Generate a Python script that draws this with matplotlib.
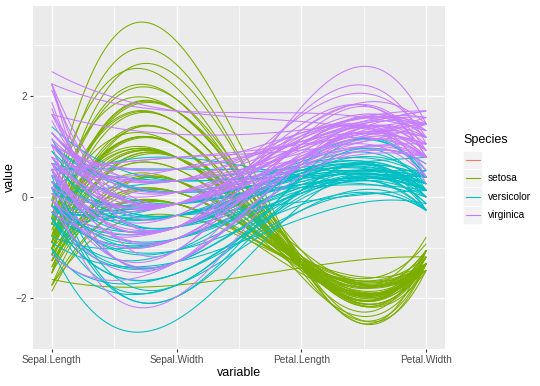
import numpy as np
import matplotlib
matplotlib.use("Agg")
import matplotlib.pyplot as plt
from matplotlib.lines import Line2D
from matplotlib.patches import Rectangle

variables = ["Sepal.Length", "Sepal.Width", "Petal.Length", "Petal.Width"]
species_levels = ["", "setosa", "versicolor", "virginica"]
species_colors = ["#F8766D", "#7CAE00", "#00BFC4", "#C77CFF"]

setosa_sl = [5.1,4.9,4.7,4.6,5.0,5.4,4.6,5.0,4.4,4.9,5.4,4.8,4.8,4.3,5.8,5.7,5.4,5.1,5.7,5.1,5.4,5.1,4.6,5.1,4.8,5.0,5.0,5.2,5.2,4.7,4.8,5.4,5.2,5.5,4.9,5.0,5.5,4.9,4.4,5.1,5.0,4.5,4.4,5.0,5.1,4.8,5.1,4.6,5.3,5.0]
setosa_sw = [3.5,3.0,3.2,3.1,3.6,3.9,3.4,3.4,2.9,3.1,3.7,3.4,3.0,3.0,4.0,4.4,3.9,3.5,3.8,3.8,3.4,3.7,3.6,3.3,3.4,3.0,3.4,3.5,3.4,3.2,3.1,3.4,4.1,4.2,3.1,3.2,3.5,3.6,3.0,3.4,3.5,2.3,3.2,3.5,3.8,3.0,3.8,3.2,3.7,3.3]
setosa_pl = [1.4,1.4,1.3,1.5,1.4,1.7,1.4,1.5,1.4,1.5,1.5,1.6,1.4,1.1,1.2,1.5,1.3,1.4,1.7,1.5,1.7,1.5,1.0,1.7,1.9,1.6,1.6,1.5,1.4,1.6,1.6,1.5,1.5,1.4,1.5,1.2,1.3,1.4,1.3,1.5,1.3,1.3,1.3,1.6,1.9,1.4,1.6,1.4,1.5,1.4]
setosa_pw = [0.2,0.2,0.2,0.2,0.2,0.4,0.3,0.2,0.2,0.1,0.2,0.2,0.1,0.1,0.2,0.4,0.4,0.3,0.3,0.3,0.2,0.4,0.2,0.5,0.2,0.2,0.4,0.2,0.2,0.2,0.2,0.4,0.1,0.2,0.2,0.2,0.2,0.1,0.2,0.2,0.3,0.3,0.2,0.6,0.4,0.3,0.2,0.2,0.2,0.2]

versicolor_sl = [7.0,6.4,6.9,5.5,6.5,5.7,6.3,4.9,6.6,5.2,5.0,5.9,6.0,6.1,5.6,6.7,5.6,5.8,6.2,5.6,5.9,6.1,6.3,6.1,6.4,6.6,6.8,6.7,6.0,5.7,5.5,5.5,5.8,6.0,5.4,6.0,6.7,6.3,5.6,5.5,5.5,6.1,5.8,5.0,5.6,5.7,5.7,6.2,5.1,5.7]
versicolor_sw = [3.2,3.2,3.1,2.3,2.8,2.8,3.3,2.4,2.9,2.7,2.0,3.0,2.2,2.9,2.9,3.1,3.0,2.7,2.2,2.5,3.2,2.8,2.5,2.8,2.9,3.0,2.8,3.0,2.9,2.6,2.4,2.4,2.7,2.7,3.0,3.4,3.1,2.3,3.0,2.5,2.6,3.0,2.6,2.3,2.7,3.0,2.9,2.9,2.5,2.8]
versicolor_pl = [4.7,4.5,4.9,4.0,4.6,4.5,4.7,3.3,4.6,3.9,3.5,4.2,4.0,4.7,3.6,4.4,4.5,4.1,4.5,3.9,4.8,4.0,4.9,4.7,4.3,4.4,4.8,5.0,4.5,3.5,3.8,3.7,3.9,5.1,4.5,4.5,4.7,4.4,4.1,4.0,4.4,4.6,4.0,3.3,4.2,4.2,4.2,4.3,3.0,4.1]
versicolor_pw = [1.4,1.5,1.5,1.3,1.5,1.3,1.6,1.0,1.3,1.4,1.0,1.5,1.0,1.4,1.3,1.4,1.5,1.0,1.5,1.1,1.8,1.3,1.5,1.2,1.3,1.4,1.4,1.7,1.5,1.0,1.1,1.0,1.2,1.6,1.5,1.6,1.5,1.3,1.3,1.3,1.2,1.4,1.2,1.0,1.3,1.2,1.3,1.3,1.1,1.3]

virginica_sl = [6.3,5.8,7.1,6.3,6.5,7.6,4.9,7.3,6.7,7.2,6.5,6.4,6.8,5.7,5.8,6.4,6.5,7.7,7.7,6.0,6.9,5.6,7.7,6.3,6.7,7.2,6.2,6.1,6.4,7.2,7.4,7.9,6.4,6.3,6.1,7.7,6.3,6.4,6.0,6.9,6.7,6.9,5.8,6.8,6.7,6.7,6.3,6.5,6.2,5.9]
virginica_sw = [3.3,2.7,3.0,2.9,3.0,3.0,2.5,2.9,2.5,3.6,3.2,2.7,3.0,2.5,2.8,3.2,3.0,3.8,2.6,2.2,3.2,2.8,2.8,2.7,3.3,3.2,2.8,3.0,2.8,3.0,2.8,3.8,2.8,2.8,2.6,3.0,3.4,3.1,3.0,3.1,3.1,3.1,2.7,3.2,3.3,3.0,2.5,3.0,3.4,3.0]
virginica_pl = [6.0,5.1,5.9,5.6,5.8,6.6,4.5,6.3,5.8,6.1,5.1,5.3,5.5,5.0,5.1,5.3,5.5,6.7,6.9,5.0,5.7,4.9,6.7,4.9,5.7,6.0,4.8,4.9,5.6,5.8,6.1,6.4,5.6,5.1,5.6,6.1,5.6,5.5,4.8,5.4,5.6,5.1,5.1,5.9,5.7,5.2,5.0,5.2,5.4,5.1]
virginica_pw = [2.5,1.9,2.1,1.8,2.2,2.1,1.7,1.8,1.8,2.5,2.0,1.9,2.1,2.0,2.4,2.3,1.8,2.2,2.3,1.5,2.3,2.0,2.0,1.8,2.1,1.8,1.8,1.8,2.1,1.6,1.9,2.0,2.2,1.5,1.4,2.3,2.4,1.8,1.8,2.1,2.4,2.3,1.9,2.3,2.5,2.3,1.9,2.0,2.3,1.8]

groups = [
    ("setosa", [setosa_sl, setosa_sw, setosa_pl, setosa_pw]),
    ("versicolor", [versicolor_sl, versicolor_sw, versicolor_pl, versicolor_pw]),
    ("virginica", [virginica_sl, virginica_sw, virginica_pl, virginica_pw]),
]

# assemble and standardize (like ggparcoord scale="std")
rows = []
labels = []
for name, cols in groups:
    arr = np.column_stack([np.asarray(c, float) for c in cols])
    rows.append(arr)
    labels += [name] * arr.shape[0]
data = np.vstack(rows)
z = (data - data.mean(axis=0)) / data.std(axis=0, ddof=1)

xpos = np.arange(1, 5, dtype=float)
xs = np.linspace(1, 4, 200)

W, H = 540, 386
fig = plt.figure(figsize=(W/100, H/100), dpi=100)
fig.patch.set_facecolor("white")
ax = fig.add_axes([33/W, 1 - 349/H, (445-33)/W, (349-6)/H])
ax.set_facecolor("#EBEBEB")

color_map = dict(zip(species_levels, species_colors))
for i in range(z.shape[0]):
    coef = np.polyfit(xpos, z[i], 3)
    ax.plot(xs, np.polyval(coef, xs), color=color_map[labels[i]], lw=0.75,
            solid_capstyle="butt", zorder=3)

ax.set_xlim(0.85, 4.15)
ax.set_ylim(-2.92, 3.78)
ax.set_xticks(xpos)
ax.set_xticklabels(variables)
ax.set_yticks([-2, 0, 2])
ax.set_xticks([1.5, 2.5, 3.5], minor=True)
ax.set_yticks([-3, -1, 1, 3], minor=True)
ax.grid(True, which="major", color="white", lw=1.0, zorder=1)
ax.grid(True, which="minor", color="white", lw=0.5, zorder=1)
ax.set_axisbelow(True)
for s in ax.spines.values():
    s.set_visible(False)
ax.tick_params(which="major", length=2.5, width=0.8, color="#333333",
               labelsize=7.3, labelcolor="#4D4D4D", pad=1.8)
ax.tick_params(which="minor", length=0)
font = "Liberation Sans"
for t in ax.get_xticklabels() + ax.get_yticklabels():
    t.set_fontfamily(font)
ax.set_xlabel("variable", fontsize=9, fontfamily=font)
ax.set_ylabel("value", fontsize=9, fontfamily=font)
ax.xaxis.set_label_coords(0.5, (349-367)/343)
ax.yaxis.set_label_coords((16-33)/412, 0.5)

# legend (ggplot style, grey key boxes)
fig.text(463/W, 1 - 140/H, "Species", fontsize=9, fontfamily=font,
         ha="left", va="center", color="black")
key_top = 150.5
key_h = 18.4
for k, (lab, col) in enumerate(zip(species_levels, species_colors)):
    y0 = key_top + k * key_h
    fig.patches.append(Rectangle((463/W, 1 - (y0 + key_h)/H), 19/W, key_h/H,
                                 transform=fig.transFigure, facecolor="#F2F2F2",
                                 edgecolor="white", lw=0.5))
    yc = 1 - (y0 + key_h/2)/H
    fig.lines.append(Line2D([465.5/W, 479.5/W], [yc, yc], transform=fig.transFigure,
                            color=col, lw=0.8))
    fig.text(488/W, yc, lab, fontsize=7.3, fontfamily=font, ha="left",
             va="center", color="black")

fig.savefig("out.png", dpi=100, facecolor="white")
